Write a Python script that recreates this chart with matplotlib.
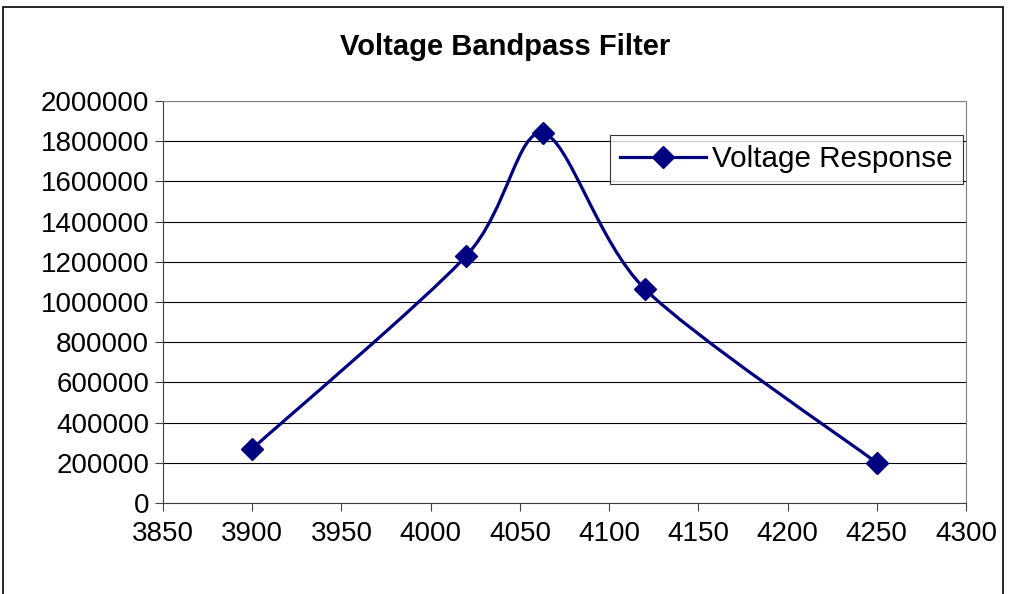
import numpy as np
import matplotlib.pyplot as plt
from matplotlib.path import Path
from matplotlib.patches import PathPatch, Rectangle
from matplotlib.lines import Line2D
from matplotlib.ticker import FormatStrFormatter

plt.rcParams['font.family'] = ['Liberation Sans', 'DejaVu Sans']

# data
freq = [3900, 4020, 4063, 4120, 4250]
voltage = [270000, 1230000, 1840000, 1065000, 200000]

fig = plt.figure(figsize=(10.10, 5.94), dpi=100)
ax = fig.add_axes([163/1010, 1-503/594, (966-163)/1010, (503-101)/594])

ax.set_xlim(3850, 4300)
ax.set_ylim(0, 2000000)
ax.set_xticks(np.arange(3850, 4301, 50))
ax.set_yticks(np.arange(0, 2000001, 200000))
ax.yaxis.set_major_formatter(FormatStrFormatter('%d'))
ax.grid(axis='y', color='black', linewidth=0.8)
ax.set_axisbelow(True)
for s in ['top', 'right']:
    ax.spines[s].set_color('#808080')
for s in ['left', 'bottom']:
    ax.spines[s].set_color('#404040')
ax.tick_params(labelsize=20, length=6, width=0.8, color='#404040', pad=4)
ax.tick_params(axis='x', pad=7)

# smoothed line, Excel-like bezier computed in display space
fig.canvas.draw()
pts = ax.transData.transform(np.column_stack([freq, voltage]))
n = len(pts)
verts = [pts[0]]
codes = [Path.MOVETO]
for i in range(n - 1):
    p0 = pts[max(i - 1, 0)]
    p1 = pts[i]
    p2 = pts[i + 1]
    p3 = pts[min(i + 2, n - 1)]
    c1 = p1 + (p2 - p0) / 7
    c2 = p2 - (p3 - p1) / 7
    verts += [c1, c2, p2]
    codes += [Path.CURVE4] * 3
verts = ax.transData.inverted().transform(np.array(verts))
curve = PathPatch(Path(verts, codes), facecolor='none', edgecolor='#000080',
                  linewidth=2.3, zorder=3)
ax.add_patch(curve)
ax.plot(freq, voltage, linestyle='none', marker='D', markersize=11,
        color='#000080', zorder=4)

handle = Line2D([], [], color='#000080', linewidth=2.3, marker='D', markersize=11)
leg = ax.legend([handle], ['Voltage Response'], loc='upper left',
                bbox_to_anchor=((610-163)/(966-163), 1-(135-101)/402),
                fontsize=21.3, frameon=True, fancybox=False, borderpad=0.35,
                handlelength=2.9, handletextpad=0.2, borderaxespad=0)
leg.get_frame().set_edgecolor('black')
leg.get_frame().set_linewidth(0.8)

fig.text(0.5, 1-47/594, 'Voltage Bandpass Filter', ha='center', va='center',
         fontsize=21, fontweight='bold')

fig.patches.append(Rectangle((3/1010, -0.05), 1000/1010, 1.05-7/594,
                             transform=fig.transFigure, fill=False,
                             edgecolor='black', linewidth=1.2))

fig.savefig('out.png', dpi=100)
